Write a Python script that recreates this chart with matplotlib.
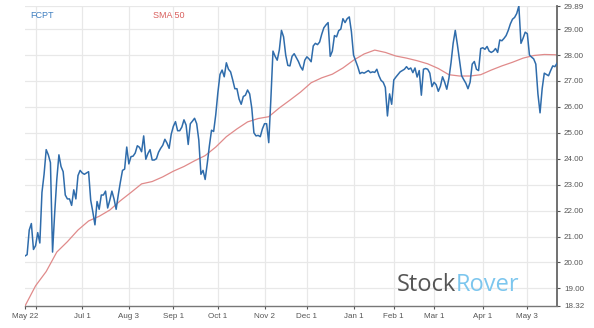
import numpy as np
import pandas as pd
import matplotlib
matplotlib.use("Agg")
import matplotlib.pyplot as plt

plt.rcParams['font.family'] = ['Liberation Sans', 'DejaVu Sans']

# daily closes, one per trading day starting 2020-05-22
close = [
    20.25, 20.30, 21.25, 21.50, 20.50, 20.65, 21.15, 20.75, 22.70, 23.40,
    24.35, 24.15, 23.85, 20.40, 21.90, 23.20, 24.15, 23.70, 23.50, 22.60,
    22.45, 22.45, 22.20, 22.80, 22.45, 23.35, 23.55, 23.45, 23.40, 23.45,
    23.50, 22.40, 21.95, 21.45, 22.35, 22.05, 22.60, 22.60, 22.75, 22.10,
    22.40, 22.75, 22.45, 22.05, 22.60, 23.10, 23.55, 23.60, 24.45, 23.80,
    24.08, 24.10, 24.22, 24.50, 24.44, 24.27, 24.88, 23.98, 24.20, 24.35,
    23.95, 23.95, 24.00, 24.25, 24.40, 24.52, 24.75, 24.60, 24.40, 24.95,
    25.25, 25.43, 25.08, 25.08, 25.22, 25.50, 25.30, 24.55, 25.35, 25.45,
    25.56, 25.35, 24.72, 23.40, 23.55, 23.20, 23.82, 24.50, 25.10, 25.05,
    25.70, 26.55, 27.25, 27.42, 27.16, 27.70, 27.45, 27.35, 27.04, 26.70,
    26.70, 26.30, 26.10, 26.40, 26.45, 26.65, 26.50, 25.95, 25.00, 24.88,
    24.90, 24.85, 25.15, 25.35, 25.35, 24.62, 26.30, 28.15, 27.95, 27.80,
    28.20, 28.95, 28.70, 28.00, 27.60, 27.58, 27.95, 28.05, 27.90, 27.75,
    27.55, 27.42, 27.80, 27.93, 27.85, 27.74, 28.35, 28.45, 28.40, 28.50,
    28.80, 29.05, 29.16, 29.25, 27.95, 28.15, 28.75, 28.70, 28.94, 29.00,
    29.40, 29.25, 29.40, 29.47, 28.90, 28.00, 27.78, 27.55, 27.28, 27.33,
    27.30, 27.35, 27.40, 27.32, 27.35, 27.33, 27.45, 27.20, 27.02, 26.95,
    26.75, 25.65, 26.50, 26.10, 27.04, 27.15, 27.25, 27.35, 27.40, 27.45,
    27.55, 27.45, 27.50, 27.32, 27.50, 27.15, 27.40, 26.45, 27.45, 27.48,
    27.45, 27.30, 26.78, 26.95, 26.85, 26.60, 26.80, 27.16, 26.95, 26.68,
    27.10, 27.70, 28.45, 28.95, 28.40, 27.80, 27.20, 27.05, 26.91, 26.70,
    26.95, 27.65, 27.75, 27.45, 27.40, 28.25, 28.28, 28.22, 28.33, 28.15,
    28.10, 28.15, 28.25, 28.10, 28.58, 28.55, 28.64, 28.75, 28.95, 29.20,
    29.38, 29.45, 29.60, 29.89, 28.45, 28.65, 28.88, 28.82, 28.00, 27.92,
    27.85, 27.65, 26.50, 25.77, 26.70, 27.30, 27.25, 27.20, 27.40, 27.58,
    27.55, 27.68,
]

# 50 day moving average, sampled every 5th session plus the last one
sma50 = [
    18.32, 19.10, 19.65, 20.40, 20.80, 21.25, 21.60, 21.78, 22.02, 22.38,
    22.70, 23.03, 23.12, 23.30, 23.52, 23.70, 23.92, 24.12, 24.45, 24.85,
    25.15, 25.42, 25.55, 25.62, 25.96, 26.26, 26.57, 26.93, 27.12, 27.26,
    27.50, 27.80, 28.04, 28.19, 28.10, 27.96, 27.88, 27.78, 27.66, 27.48,
    27.24, 27.19, 27.19, 27.24, 27.42, 27.58, 27.72, 27.88, 27.98, 28.02,
    28.01, 28.00,
]

holidays = ['2020-05-25', '2020-07-03', '2020-09-07', '2020-11-26',
            '2020-12-25', '2021-01-01', '2021-01-18', '2021-02-15',
            '2021-04-02']
dates = pd.bdate_range('2020-05-22', periods=len(close), freq='C',
                       holidays=holidays)

tick_dates = ['2020-05-22', '2020-06-01', '2020-07-01', '2020-08-03',
              '2020-09-01', '2020-10-01', '2020-11-02', '2020-12-01',
              '2021-01-01', '2021-02-01', '2021-03-01', '2021-04-01',
              '2021-05-03']
tick_labels = ['May 22', '', 'Jul 1', 'Aug 3', 'Sep 1', 'Oct 1', 'Nov 2',
               'Dec 1', 'Jan 1', 'Feb 1', 'Mar 1', 'Apr 1', 'May 3']
ymin, ymax = 18.32, 29.89
yticks = [18.32] + list(range(19, 30)) + [29.89]

x = np.arange(len(close))
sma_x = list(range(0, len(close), 5)) + [len(close) - 1]
xt = dates.searchsorted(pd.to_datetime(tick_dates))

fig = plt.figure(figsize=(5.94, 3.28), dpi=100)
ax = fig.add_axes([25 / 594, 22 / 328, 532 / 594, 300 / 328])

ax.plot(sma_x, sma50, color='#e08a8a', lw=0.9, zorder=2)
ax.plot(x, close, color='#2f6cab', lw=1.1, zorder=3)

ax.set_xlim(0, len(close) - 1)
ax.set_ylim(ymin, ymax)

ax.yaxis.tick_right()
ax.set_yticks(yticks)
ax.set_yticklabels(['%.2f' % v for v in yticks])
ax.set_xticks(xt)
ax.set_xticklabels(tick_labels)
ax.tick_params(axis='both', labelsize=5.8, colors='#555555', length=2.5,
               width=0.8, pad=2.5)

ax.grid(True, color='#e8e8e8', lw=0.9, zorder=0)
ax.get_xgridlines()[0].set_visible(False)
ax.get_ygridlines()[0].set_visible(False)

for s in ['left', 'top']:
    ax.spines[s].set_visible(False)
ax.spines['right'].set_color('#666666')
ax.spines['right'].set_linewidth(1.3)
ax.spines['bottom'].set_color('#777777')
ax.spines['bottom'].set_linewidth(1.0)

fig.text(30 / 594, 1 - 15 / 328, 'FCPT', color='#3f7fc0', fontsize=6.5,
         va='center', ha='left')
fig.text(153 / 594, 1 - 15 / 328, 'SMA 50', color='#d9605e', fontsize=6.5,
         va='center', ha='left')

# watermark
wm = fig.text(397 / 594, 1 - 291 / 328, 'Stock', color='#555555',
              fontsize=17, family='Open Sans', va='baseline', ha='left')
ax.annotate('Rover', xy=(1, 0), xycoords=wm, color='#7cc6ee', fontsize=17,
            family='Open Sans', va='bottom', ha='left')

fig.savefig('out.png', dpi=100)
